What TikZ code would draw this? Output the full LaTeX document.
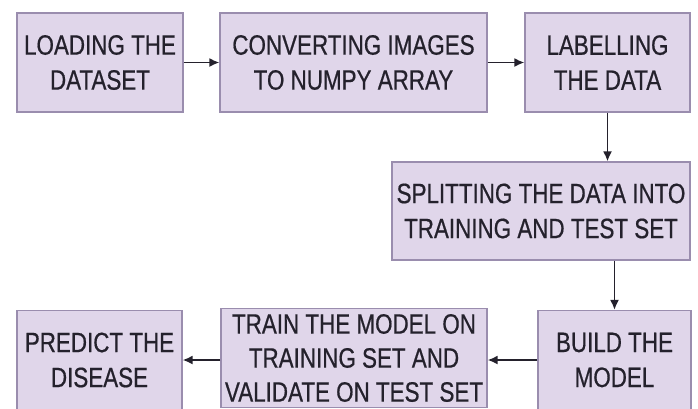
\documentclass[tikz,border=0pt]{standalone}
\usepackage{fontspec}
\setmainfont{Liberation Sans}[FakeStretch=0.8, FakeBold=0.6]
\usetikzlibrary{arrows.meta}
\definecolor{boxfill}{HTML}{E0D6EA}
\definecolor{boxline}{HTML}{9A8DAE}
\definecolor{inkcol}{HTML}{24212C}
\tikzset{
  stepbox/.style={draw=boxline, line width=1.2pt, fill=boxfill, inner sep=0pt,
    align=center, text=inkcol, font=\fontsize{28}{35}\selectfont,
    minimum height=99pt},
  flow/.style={draw=inkcol, line width=1.8pt, -{Latex[length=10pt,width=9pt]}}
}
\begin{document}
\begin{tikzpicture}[x=1pt,y=-1pt]
  \useasboundingbox (0,0) rectangle (698,408);
  \clip (0,0) rectangle (698,408);
  \fill[white] (0,0) rectangle (698,408);
  % top row
  \node[stepbox, minimum width=166pt] (load)  at (100,62.5)   {LOADING THE\\DATASET};
  \node[stepbox, minimum width=267pt] (conv)  at (353.5,62.5) {CONVERTING IMAGES\\TO NUMPY ARRAY};
  \node[stepbox, minimum width=165pt] (label) at (607.5,62.5) {LABELLING\\THE DATA};
  % middle
  \node[stepbox, minimum width=298pt, minimum height=98pt] (split) at (541,211) {SPLITTING THE DATA INTO\\TRAINING AND TEST SET};
  % bottom row
  \node[stepbox, minimum width=153pt] (build)   at (614.5,360) {BUILD THE\\MODEL};
  \node[stepbox, minimum width=266pt, font=\fontsize{28}{34}\selectfont] (train) at (354,358) {TRAIN THE MODEL ON\\TRAINING SET AND\\VALIDATE ON TEST SET};
  \node[stepbox, minimum width=165pt] (predict) at (99.5,360)  {PREDICT THE\\DISEASE};
  % connectors
  \draw[flow] (load) -- (conv);
  \draw[flow] (conv) -- (label);
  \draw[flow] (label.south) -- (label.south |- split.north);
  \draw[flow] (split.south -| build.north) -- (build.north);
  \draw[flow] (build.west) -- (build.west -| train.east);
  \draw[flow] (train.west |- predict.east) -- (predict.east);
\end{tikzpicture}
\end{document}
